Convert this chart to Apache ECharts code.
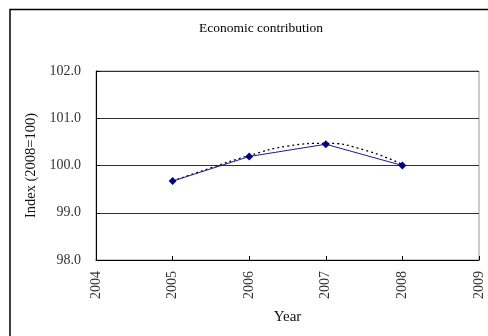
<!DOCTYPE html>
<html>
<head>
<meta charset="utf-8">
<script src="https://cdn.jsdelivr.net/npm/echarts@6/dist/echarts.min.js"></script>
<style>
  html, body { margin: 0; padding: 0; background: #fff; }
  #chart { width: 488px; height: 336px; }
</style>
</head>
<body>
<div id="chart"></div>
<script>
// Index values by year (2008 = 100)
const years = [2005, 2006, 2007, 2008];
const indexValues = [99.67, 100.19, 100.45, 100.0];

// Smoothed trend curve sampled along the same span
const trendYears = [2005, 2005.5, 2006, 2006.5, 2007, 2007.5, 2008];
const trendValues = [99.67, 99.95, 100.21, 100.41, 100.47, 100.33, 100.02];

const yTicks = [98, 99, 100, 101, 102];

const FONT = '"Liberation Serif", "DejaVu Serif", serif';

const chart = echarts.init(document.getElementById('chart'), null, { renderer: 'canvas' });

chart.setOption({
  backgroundColor: '#fff',
  animation: false,
  title: {
    text: 'Economic contribution',
    left: 256,
    top: 16,
    textAlign: 'center',
    textStyle: { fontFamily: FONT, fontSize: 13.5, fontWeight: 'normal', color: '#000' }
  },
  graphic: [{
    type: 'rect',
    shape: { x: 10, y: 9.5, width: 500, height: 340 },
    style: { fill: 'none', stroke: '#000', lineWidth: 1.5 },
    silent: true,
    z: 100
  }],
  grid: {
    left: 96, top: 71, width: 383, height: 189,
    show: true, borderColor: '#999', borderWidth: 1, backgroundColor: 'transparent'
  },
  xAxis: {
    type: 'value',
    min: 2004, max: 2009, interval: 1,
    name: 'Year',
    nameLocation: 'middle',
    nameGap: 50,
    nameTextStyle: { fontFamily: FONT, fontSize: 15, color: '#111' },
    axisLine: { show: true, lineStyle: { color: '#000', width: 1 } },
    axisTick: { show: true, inside: true, length: 4, lineStyle: { color: '#000' } },
    axisLabel: { rotate: 90, margin: 11, fontFamily: FONT, fontSize: 14, color: '#333',
      formatter: v => String(v) },
    splitLine: { show: false }
  },
  yAxis: {
    type: 'value',
    min: yTicks[0], max: yTicks[yTicks.length - 1], interval: 1,
    name: 'Index (2008=100)',
    nameLocation: 'middle',
    nameGap: 56,
    nameTextStyle: { fontFamily: FONT, fontSize: 14.5, color: '#111' },
    axisLine: { show: true, lineStyle: { color: '#000', width: 1 } },
    axisTick: { show: true, inside: true, length: 4, lineStyle: { color: '#000' } },
    axisLabel: { margin: 15, fontFamily: FONT, fontSize: 14, color: '#333',
      formatter: v => v.toFixed(1) },
    splitLine: { show: true, lineStyle: { color: '#333', width: 1 } }
  },
  series: [
    {
      type: 'line',
      data: trendYears.map((y, i) => [y, trendValues[i]]),
      smooth: true,
      showSymbol: false,
      symbol: 'none',
      lineStyle: { color: '#000', width: 1.3, type: [2, 3] },
      z: 3
    },
    {
      type: 'line',
      data: years.map((y, i) => [y, indexValues[i]]),
      symbol: 'diamond',
      symbolSize: 8,
      itemStyle: { color: '#000080' },
      lineStyle: { color: '#1a1a99', width: 1 },
      z: 4
    }
  ]
});
</script>
</body>
</html>
